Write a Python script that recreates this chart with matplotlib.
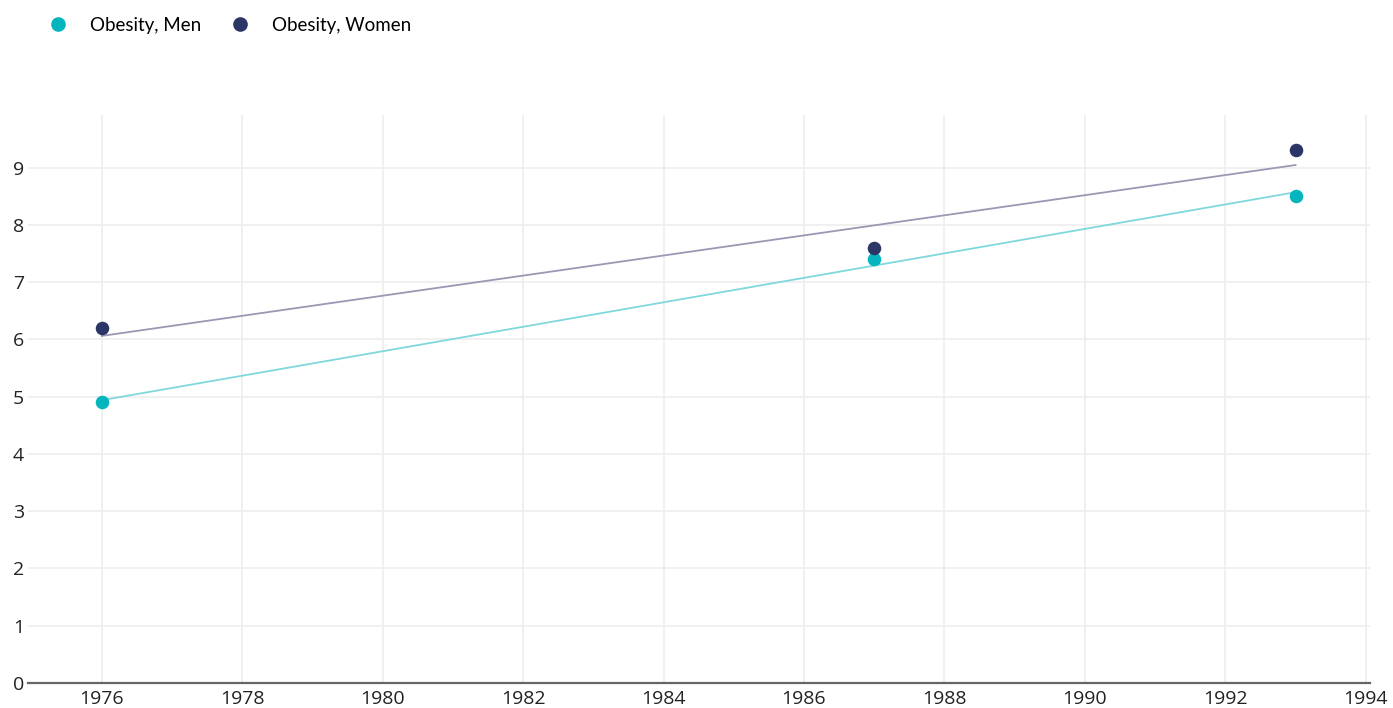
import numpy as np
import matplotlib
matplotlib.use("Agg")
import matplotlib.pyplot as plt
from matplotlib.lines import Line2D

# data
years = [1976, 1987, 1993]
men = [4.9, 7.4, 8.5]
women = [6.2, 7.6, 9.3]
series_names = ["Obesity, Men", "Obesity, Women"]
x_ticks = list(range(1976, 1995, 2))
y_ticks = list(range(0, 10))

men_color = "#04b5be"
women_color = "#2b3566"
men_trend = "#7fd8dc"
women_trend = "#9a98b2"

fig = plt.figure(figsize=(13.93, 7.08), dpi=100)
ax = fig.add_axes([0.0201, 0.0353, 0.9634, 0.8023])

x = np.array(years, dtype=float)
for vals, c, tc in [(men, men_color, men_trend), (women, women_color, women_trend)]:
    # linear trend line fitted to the points
    k, b = np.polyfit(x, vals, 1)
    ax.plot(x[[0, -1]], k * x[[0, -1]] + b, color=tc, lw=1.3, zorder=3)
    ax.scatter(x, vals, s=95, color=c, zorder=4, linewidths=0)

ax.set_xlim(1974.95, 1994.06)
ax.set_ylim(0, 9.92)
ax.set_xticks(x_ticks)
ax.set_yticks(y_ticks)
ax.grid(True, color="#eeeeee", lw=1.2)
ax.set_axisbelow(True)

for s in ["top", "right", "left"]:
    ax.spines[s].set_visible(False)
ax.spines["bottom"].set_color("#666666")
ax.spines["bottom"].set_linewidth(1.6)
ax.spines["bottom"].set_zorder(5)

ax.tick_params(axis="both", length=0, labelsize=14, colors="#222222")
ax.tick_params(axis="x", pad=5)
ax.tick_params(axis="y", pad=3)
for lab in ax.get_xticklabels() + ax.get_yticklabels():
    lab.set_fontfamily("Open Sans")

handles = [
    Line2D([], [], marker="o", ls="", color=men_color, markersize=9.5),
    Line2D([], [], marker="o", ls="", color=women_color, markersize=9.5),
]
fig.legend(handles, series_names, loc="upper left", bbox_to_anchor=(0.0159, 1.0),
           ncol=2, frameon=False, handletextpad=0.7, columnspacing=1.07,
           prop={"family": "Lato", "size": 13.5})

fig.savefig("out.png", dpi=100)
